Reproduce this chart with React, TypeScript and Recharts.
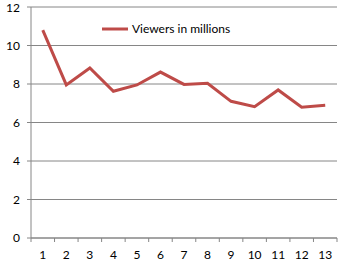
import { LineChart, Line, XAxis, YAxis, CartesianGrid, Legend } from 'recharts';

const episodes = ['1', '2', '3', '4', '5', '6', '7', '8', '9', '10', '11', '12', '13'];
const viewers = [10.8, 7.95, 8.83, 7.62, 7.95, 8.62, 7.98, 8.04, 7.1, 6.82, 7.69, 6.79, 6.89];
const yTicks = [0, 2, 4, 6, 8, 10, 12];

const W = 342;
const H = 275;
const LEFT = 31;
const RIGHT = 5;
const GRAY = '#868686';
const RED = '#BE4B48';
const FONT = 'Lato, "Open Sans", sans-serif';

const band = (W - LEFT - RIGHT) / episodes.length;

// x ticks sit between categories like Excel, labels in the middle
function EpisodeTick(props: any) {
  const { x, y, payload, index } = props;
  const top = y - 4 - 8;
  return (
    <g>
      <line x1={x - band / 2} x2={x - band / 2} y1={top} y2={top + 4} stroke={GRAY} />
      {index === episodes.length - 1 && (
        <line x1={x + band / 2} x2={x + band / 2} y1={top} y2={top + 4} stroke={GRAY} />
      )}
      <text x={x} y={y} dy="0.71em" textAnchor="middle" fill="#000" fontSize={12} fontFamily={FONT}>
        {payload.value}
      </text>
    </g>
  );
}

function LegendBox() {
  return (
    <div style={{ display: 'flex', alignItems: 'center', fontFamily: FONT, fontSize: 12, color: '#000' }}>
      <svg width={26} height={6} style={{ marginRight: 4 }}>
        <line x1={0} x2={26} y1={3} y2={3} stroke={RED} strokeWidth={3} />
      </svg>
      <span>Viewers in millions</span>
    </div>
  );
}

export default function App() {
  const data = episodes.map((ep, i) => ({ episode: ep, viewers: viewers[i] }));

  return (
    <div style={{ position: 'absolute', left: 0, top: 0, width: W, height: H, background: '#fff' }}>
      <LineChart width={W} height={H} data={data} margin={{ top: 7, right: RIGHT, left: 0, bottom: 0 }}>
        <CartesianGrid vertical={false} stroke={GRAY} />
        <XAxis
          dataKey="episode"
          scale="band"
          height={37}
          axisLine={{ stroke: GRAY }}
          tickLine={false}
          tickSize={4}
          tickMargin={8}
          interval={0}
          tick={<EpisodeTick />}
        />
        <YAxis
          width={LEFT}
          domain={[0, 12]}
          ticks={yTicks}
          axisLine={{ stroke: GRAY }}
          tickLine={{ stroke: GRAY }}
          tickSize={4}
          tickMargin={7}
          tick={{ fill: '#000', fontSize: 12, fontFamily: FONT }}
        />
        <Legend
          verticalAlign="middle"
          align="center"
          content={<LegendBox />}
          wrapperStyle={{ left: 102, top: 21, width: 'auto' }}
        />
        <Line
          type="linear"
          dataKey="viewers"
          stroke={RED}
          strokeWidth={3}
          dot={false}
          isAnimationActive={false}
        />
      </LineChart>
    </div>
  );
}
